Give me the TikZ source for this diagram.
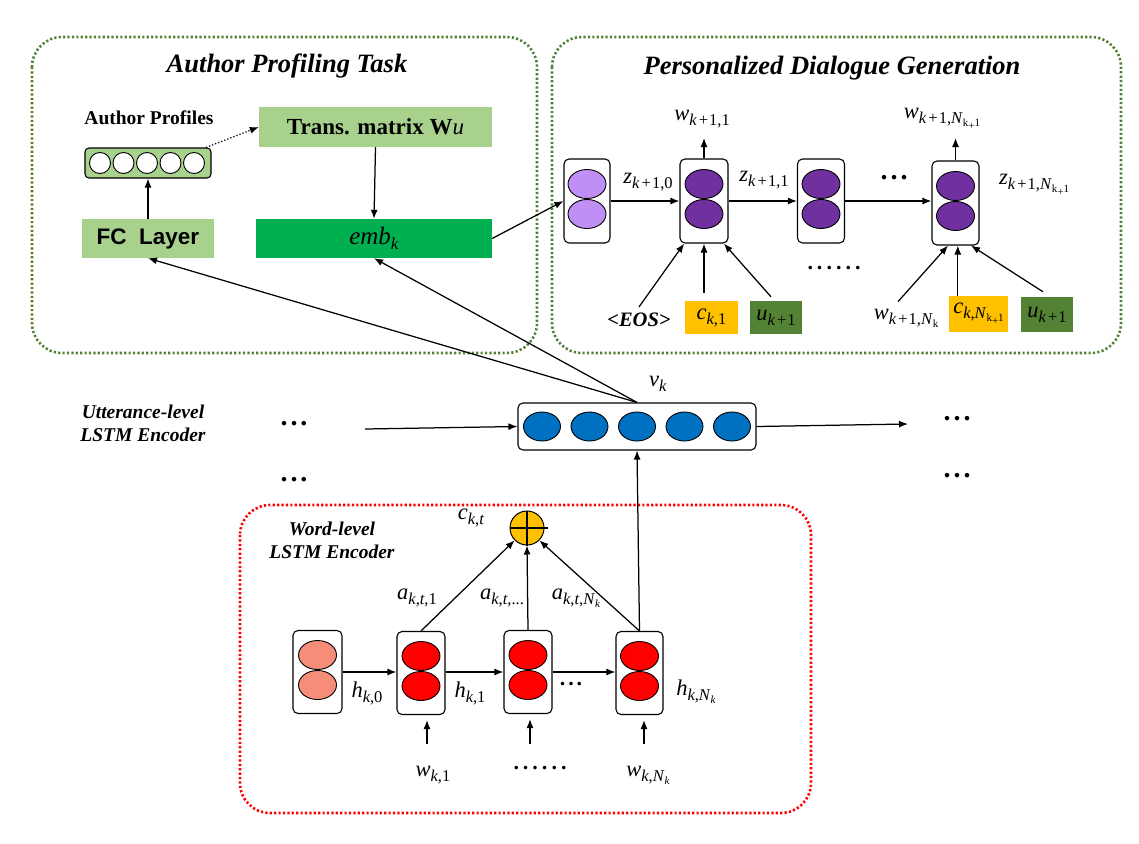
\documentclass[tikz,border=0pt]{standalone}
\usepackage{fontspec}
\setmainfont{Liberation Serif}
\newfontfamily\arialf{Liberation Sans}
\usetikzlibrary{arrows.meta,calc,shapes.geometric}
\definecolor{lgreen}{HTML}{A9D18E}
\definecolor{embgreen}{HTML}{00B050}
\definecolor{dgreen}{HTML}{548235}
\definecolor{gold}{HTML}{FFC000}
\definecolor{dpurple}{HTML}{7030A0}
\definecolor{lpurple}{HTML}{BF8FF5}
\definecolor{eblue}{HTML}{0070C0}
\definecolor{salmon}{HTML}{F58D78}
\definecolor{rred}{HTML}{FF0000}
% label helpers
\newcommand{\lbl}[2]{\textit{#1}\raisebox{-5pt}{\fontsize{16.5}{17}\selectfont #2}}
\newcommand{\kk}{\textit{k}}
\newcommand{\kpo}{\textit{k}\kern2pt+\kern1pt1}
\newcommand{\Nk}{\textit{N}\raisebox{-3pt}{\fontsize{11}{11}\selectfont\textit{k}}}
\newcommand{\Nkr}{\textit{N}\raisebox{-3pt}{\fontsize{11}{11}\selectfont k}}
\newcommand{\Nkp}{\textit{N}\raisebox{-3pt}{\fontsize{11}{11}\selectfont k\raisebox{-3pt}{+}1}}
\newcommand{\threedots}{.\kern3pt.\kern3pt.}
\newcommand{\sixdots}{.\kern4pt.\kern4pt.\kern4pt.\kern4pt.\kern4pt.}
\tikzset{
  arr/.style={-{Latex[length=9pt,width=7pt]}, line width=1.25pt},
  cellbox/.style={draw, rounded corners=5pt, fill=white, line width=1.1pt, minimum width=48pt, minimum height=84pt, inner sep=0pt},
  ell/.style={draw, ellipse, line width=0.9pt, minimum width=38pt, minimum height=29pt, inner sep=0pt},
  gbox/.style={draw=dgreen, line width=2.6pt, dash pattern=on 2.2pt off 2.2pt, rounded corners=30pt},
  rbox/.style={draw=rred, line width=2.6pt, dash pattern=on 2.2pt off 2.2pt, rounded corners=30pt},
  titlef/.style={font=\fontsize{26.5}{30}\selectfont\bfseries\itshape},
  mlab/.style={font=\fontsize{22.5}{24}\selectfont, inner sep=1pt},
  sublab/.style={font=\fontsize{19.5}{23}\selectfont\bfseries\itshape, align=center, inner sep=0pt},
  bigdots/.style={font=\fontsize{28}{30}\selectfont\bfseries, inner sep=0pt},
  smalldots/.style={font=\fontsize{22}{24}\selectfont\bfseries, inner sep=0pt},
  colbox/.style={minimum width=53pt, minimum height=33pt, inner sep=0pt, font=\fontsize{22.5}{24}\selectfont},
}
\begin{document}
\begin{tikzpicture}[x=1pt,y=-1pt]
\useasboundingbox (0,0) rectangle (1139,843);
\fill[white] (0,0) rectangle (1139,843);

% ---------- frames ----------
\draw[gbox] (32,37) rectangle (537,353);
\draw[gbox] (552,37) rectangle (1121,353);
\draw[rbox] (240,505) rectangle (811,813);

\node[titlef] (t1) at (287,66) {Author Profiling Task};
\node[titlef] (t2) at (832,68) {Personalized Dialogue Generation};

% ---------- author profiling ----------
\node[font=\fontsize{19.5}{22}\selectfont\bfseries] (aplab) at (149,118) {Author Profiles};
\node[draw, rounded corners=4pt, fill=lgreen, line width=1.1pt, minimum width=126pt, minimum height=30pt] (prof) at (148,163) {};
\foreach \x in {100,123.5,147,170.5,194} \draw[fill=white, line width=0.9pt] (\x,163) circle (10.5pt);
\node[fill=lgreen, minimum width=233pt, minimum height=40pt, font=\fontsize{23}{26}\selectfont\bfseries] (trans) at (375.5,127) {Trans. matrix W\textmd{\textit{u}}};
\node[fill=embgreen, minimum width=236pt, minimum height=39pt, font=\fontsize{25}{28}\selectfont] (emb) at (374,238.5) {\textit{emb}\raisebox{-5pt}{\fontsize{17}{18}\selectfont\textit{k}}};
\node[fill=lgreen, minimum width=132pt, minimum height=39pt, font=\arialf\fontsize{22.5}{26}\selectfont\bfseries] (fc) at (148,238.5) {FC\ \ Layer};

\draw[arr] (fc.north) -- (prof.south);
\draw[arr, dotted] (prof.15) -- (trans.west);
\draw[arr] (trans.south) -- (emb.north);

% ---------- dialogue generation ----------
\node[cellbox, minimum width=46pt] (d0) at (587,201) {};
\node[cellbox] (d1) at (704,201) {};
\node[cellbox, minimum width=47pt] (d2) at (821,201) {};
\node[cellbox, minimum width=47pt] (d3) at (955.5,203) {};
\node[ell, fill=lpurple] at ($(d0)+(0,-17)$) {};
\node[ell, fill=lpurple] at ($(d0)+(0,13)$) {};
\foreach \c in {d1,d2,d3}{
  \node[ell, fill=dpurple] at ($(\c)+(0,-17)$) {};
  \node[ell, fill=dpurple] at ($(\c)+(0,13)$) {};
}
\draw[arr] (emb.east) -- (d0.west);
\draw[arr] (d0.east) -- (d1.west);
\draw[arr] (d1.east) -- (d2.west);
\draw[arr] (d2.east) -- (d2.east -| d3.west);
\node[mlab] (z0) at (648,182) {\lbl{z}{\kpo,0}};
\node[mlab] (z1) at (764,180) {\lbl{z}{\kpo,1}};
\node[bigdots] (zd) at (894,178) {\threedots};
\node[mlab] (zn) at (1034,185) {\lbl{z}{\kpo,\Nkp}};

\coordinate (o1) at (704,138);
\coordinate (o3) at (955.5,138);
\draw[arr] (d1.north) -- (o1);
\draw[arr] (d3.north) -- (o3);
\node[mlab] (w1o) at (702,119) {\lbl{w}{\kpo,1}};
\node[mlab] (wno) at (942,119) {\lbl{w}{\kpo,\Nkp}};

\node[font=\fontsize{20.5}{22}\selectfont\bfseries\itshape, inner sep=0pt] (eos) at (639,320) {<EOS>};
\node[colbox, fill=gold] (c1) at (711.5,317.5) {\lbl{c}{\kk,1}};
\node[colbox, fill=dgreen, minimum width=52pt] (u1) at (776,317.5) {\lbl{u}{\kpo}};
\draw[arr] ($(eos.north)+(0,-6)$) -- (d1.245);
\draw[arr] ($(c1.north -| d1.south)+(0,-8)$) -- (d1.south);
\draw[arr] ($(u1.north)+(-5,-4)$) -- (d1.295);
\node[smalldots] (dd) at (834,268) {\sixdots};

\node[mlab] (wnk) at (906,318) {\lbl{w}{\kpo,\Nkr}};
\node[colbox, fill=gold, minimum width=59pt, minimum height=36pt] (cn) at (978.5,314) {\lbl{c}{\kk,\Nkp}};
\node[colbox, fill=dgreen, minimum width=52pt, minimum height=35pt] (un) at (1047,314.5) {\lbl{u}{\kpo}};
\coordinate (cna) at ($(cn.north west)+(9,0)$);
\draw[arr] ($(wnk.north)+(-8,-6)$) -- (d3.260);
\draw[arr] (cna) -- (cna |- d3.south);
\draw[arr] ($(un.north)+(-4,-5)$) -- (d3.290);

% ---------- utterance level ----------
\node[draw, rounded corners=5pt, fill=white, line width=1.1pt, minimum width=238pt, minimum height=47pt] (vk) at (637,426.5) {};
\foreach \x in {542,589.5,637,684.5,732} \node[ell, fill=eblue, minimum width=37pt] at (\x,426.5) {};
\node[mlab] (vkl) at (658,384) {\lbl{v}{\kk}};
\node[sublab] (ulab) at (143,423) {Utterance-level\\LSTM Encoder};
\node[bigdots] (dl1) at (294,424) {\threedots};
\node[bigdots] (dl2) at (294,480) {\threedots};
\node[bigdots] (dr1) at (957,419) {\threedots};
\node[bigdots] (dr2) at (957,476) {\threedots};
\coordinate (lin) at (365,429);
\coordinate (rout) at (908,424);
\draw[arr] (lin) -- (vk.west);
\draw[arr] (vk.east) -- (rout);
\draw[arr] (vk.north) -- (fc.south);
\draw[arr] (vk.north) -- (emb.south);

% ---------- word level ----------
\node[sublab] (wlab) at (332,540) {Word-level\\LSTM Encoder};
\node[draw, circle, fill=gold, line width=1pt, minimum size=34pt, inner sep=0pt] (sum) at (527,528) {};
\draw[line width=1.5pt] (sum.west) -- ($(sum.east)+(3,0)$);
\draw[line width=1.5pt] (sum.north) -- (sum.south);
\node[mlab] (ckt) at (471,518) {\lbl{c}{\kk,\textit{t}}};

\node[cellbox, minimum width=49pt, minimum height=83pt] (h0) at (317.5,672) {};
\node[cellbox, minimum height=83pt] (w1) at (421,673) {};
\node[cellbox, minimum height=83pt] (w2) at (528,672) {};
\node[cellbox, minimum width=47pt, minimum height=83pt] (w3) at (639.5,673) {};
\node[ell, fill=salmon] at ($(h0)+(0,-17)$) {};
\node[ell, fill=salmon] at ($(h0)+(0,13)$) {};
\foreach \c in {w1,w2,w3}{
  \node[ell, fill=rred] at ($(\c)+(0,-17)$) {};
  \node[ell, fill=rred] at ($(\c)+(0,13)$) {};
}
\draw[arr] (h0.east) -- (h0.east -| w1.west);
\draw[arr] (w1.east |- w2.east) -- (w2.west);
\draw[arr] (w2.east) -- (w2.east -| w3.west);
\node[mlab] (h0l) at (367,693) {\lbl{h}{\kk,0}};
\node[mlab] (h1l) at (470,693) {\lbl{h}{\kk,1}};
\node[smalldots] (hd) at (571,684) {\threedots};
\node[mlab] (hnl) at (696,692) {\lbl{h}{\kk,\Nk}};

\draw[arr] (w1.north) -- (sum.225);
\draw[arr] (w2.north) -- (sum.south);
\draw[arr] (w3.north) -- (sum.315);
\draw[arr] (w3.north) -- (vk.south);
\node[mlab] (a1) at (417,598) {\lbl{a}{\kk,\textit{t},1}};
\node[mlab] (a2) at (502,598) {\lbl{a}{\kk,\textit{t},...}};
\node[mlab] (a3) at (576,598) {\lbl{a}{\kk,\textit{t},\Nk}};

\coordinate (i1) at (427,744);
\coordinate (i2) at (530,744);
\coordinate (i3) at (644,744);
\draw[arr, shorten >=5pt] (i1) -- (i1 |- w1.south);
\draw[arr, shorten >=5pt] (i2) -- (i2 |- w2.south);
\draw[arr, shorten >=5pt] (i3) -- (i3 |- w3.south);
\node[mlab] (wk1) at (433,775) {\lbl{w}{\kk,1}};
\node[smalldots] (wd) at (540,768) {\sixdots};
\node[mlab] (wkn) at (648,775) {\lbl{w}{\kk,\Nk}};
\end{tikzpicture}
\end{document}
